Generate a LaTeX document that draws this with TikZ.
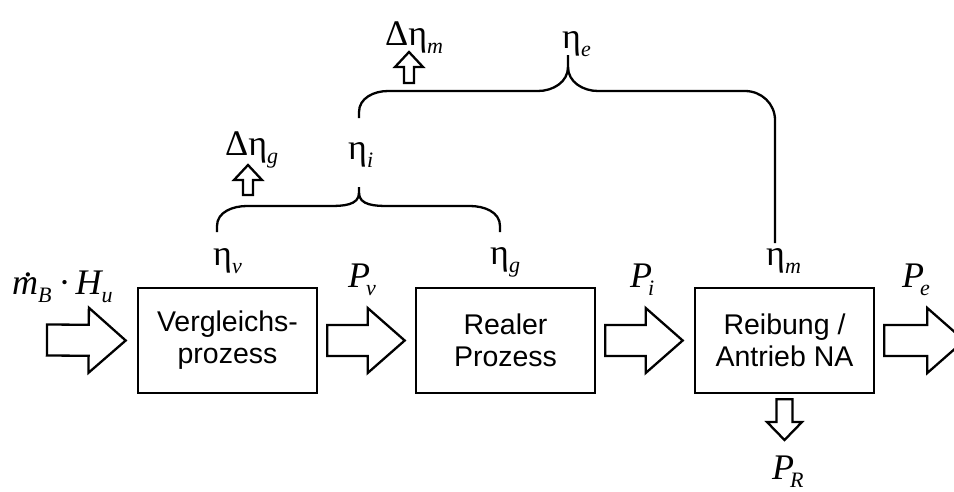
\documentclass[tikz,border=0pt]{standalone}
\usepackage{fontspec}
\setmainfont{Liberation Serif}
\newfontfamily\sansf{Liberation Sans}
\usetikzlibrary{calc}
\newcommand\sbs[1]{\raisebox{-8.5pt}{\fontsize{22}{22}\selectfont\itshape #1}}
\newcommand\mdotit{\rlap{\kern0.34em\raisebox{0.5em}{.}}m}
\newcommand\blockarrow[5]{%
  \path ($(#2)!#5!(#1)$) coordinate (hb);
  \draw[barrow] ($(#1)!#3!90:(#2)$) -- ($(hb)!#3!90:(#2)$) -- ($(hb)!#4!90:(#2)$) -- (#2)
     -- ($(hb)!#4!-90:(#2)$) -- ($(hb)!#3!-90:(#2)$) -- ($(#1)!#3!-90:(#2)$) -- cycle;}
\tikzset{
  procbox/.style={draw, line width=2.6pt, minimum width=179pt, minimum height=105pt,
    inner sep=0pt, align=center, font=\sansf\fontsize{28.5}{32}\selectfont},
  lbl/.style={anchor=base west, inner sep=0pt, font=\fontsize{36}{38}\selectfont},
  barrow/.style={draw, line width=2.3pt, line join=miter, fill=white},
  brace/.style={draw, line width=2.3pt}
}
\begin{document}
\begin{tikzpicture}[x=1pt,y=-1pt]
\useasboundingbox (0,0) rectangle (954,491);
\clip (0,0) rectangle (954,491);
\fill[white] (0,0) rectangle (954,491);
% boxes
\node[procbox] (b1) at (227.5,340.5) {Vergleichs-\\prozess};
\node[procbox] (b2) at (505.5,340.5) {Realer\\Prozess};
\node[procbox] (b3) at (784.5,340.5) {Reibung /\\Antrieb NA};
% arrow end points
\coordinate (i0) at (47,340);
\coordinate (i1) at ($(b1.west)+(-11,0)$);
\coordinate (v0) at ($(b1.east)+(9,0)$);
\coordinate (v1) at ($(b2.west)+(-10,0)$);
\coordinate (g0) at ($(b2.east)+(9,0)$);
\coordinate (g1) at ($(b3.west)+(-11,0)$);
\coordinate (e0) at ($(b3.east)+(9,0)$);
\coordinate (e1) at ($(e0)+(80,0)$);
\coordinate (r0) at ($(b3.south)+(0,5)$);
\coordinate (r1) at (784.5,440);
\coordinate (ug0) at (248,195);
\coordinate (ug1) at (248,165);
\coordinate (um0) at (409,83);
\coordinate (um1) at (409,52);
\blockarrow{i0}{i1}{15.5pt}{32.5pt}{37pt}
\blockarrow{v0}{v1}{15.5pt}{32.5pt}{37pt}
\blockarrow{g0}{g1}{15.5pt}{32.5pt}{37pt}
\blockarrow{e0}{e1}{15.5pt}{32.5pt}{37pt}
\blockarrow{r0}{r1}{8pt}{17.5pt}{18pt}
\blockarrow{ug0}{ug1}{5pt}{14pt}{15pt}
\blockarrow{um0}{um1}{5pt}{14pt}{15pt}
% labels
\node[lbl] (lin) at (12,294) {\itshape\mdotit\sbs{B}\kern7pt\upshape·\kern5pt\itshape H\sbs{u}};
\node[lbl] (etav) at (213,265) {η\sbs{v}};
\node[lbl] (pv) at (348,287) {\itshape P\kern-4pt\sbs{v}};
\node[lbl] (etag) at (490,264) {η\sbs{g}};
\node[lbl] (pi) at (630,287) {\itshape P\kern-4pt\sbs{i}};
\node[lbl] (etam) at (766,265) {η\sbs{m}};
\node[lbl] (pe) at (902,287) {\itshape P\kern-4pt\sbs{e}};
\node[lbl] (pr) at (772,479) {\itshape P\kern-4pt\sbs{R}};
\node[lbl] (dg) at (225,155) {Δη\sbs{g}};
\node[lbl] (etai) at (348,159) {η\sbs{i}};
\node[lbl] (dm) at (385,45) {Δη\sbs{m}};
\node[lbl] (etae) at (562,48) {η\sbs{e}};
% braces
\coordinate (br1l) at (217,232);
\coordinate (br1m) at (359,187);
\coordinate (br1r) at (500,232);
\draw[brace] (br1l) -- ++(0,-6) to[out=90,in=180] (247,206) -- (330,206)
  to[out=0,in=-90] ($(br1m)+(0,6)$) -- (br1m);
\draw[brace] ($(br1m)+(0,6)$) to[out=-90,in=180] (388,206) -- (470,206)
  to[out=0,in=90] (500,226) -- (br1r);
\coordinate (br2l) at (359,118);
\coordinate (br2m) at (568,55);
\coordinate (br2r) at (775,243);
\draw[brace] (br2l) -- ++(0,-6) to[out=90,in=180] (388,91) -- (538,91)
  to[out=0,in=-90] ($(br2m)+(0,12)$) -- (br2m);
\draw[brace] ($(br2m)+(0,12)$) to[out=-90,in=180] (598,91) -- (745,91)
  to[out=0,in=90] (775,120) -- (br2r);
\end{tikzpicture}
\end{document}
